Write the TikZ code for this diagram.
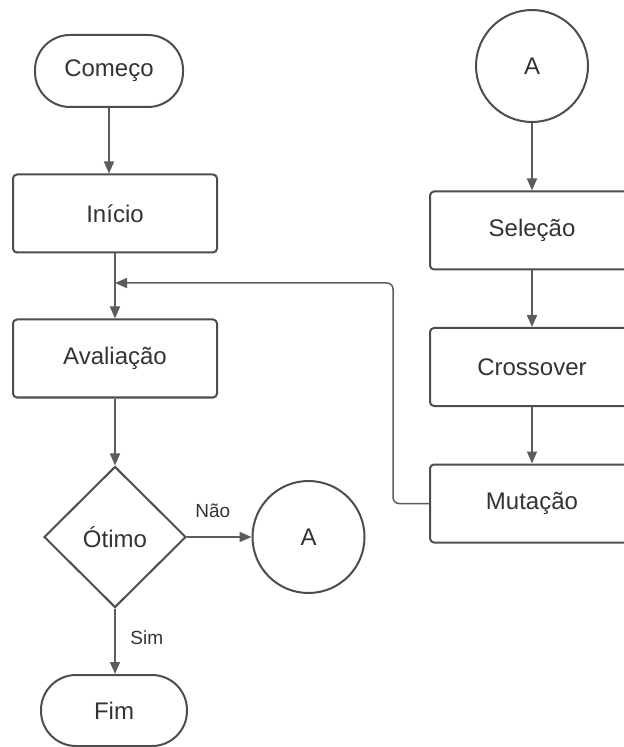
\documentclass[tikz,border=0pt]{standalone}
\usepackage{fontspec}
\setmainfont{Liberation Sans}
\usetikzlibrary{positioning, arrows.meta, shapes.geometric}

\definecolor{edgegray}{HTML}{4D4D4D}
\definecolor{wiregray}{HTML}{5C5C5C}
\definecolor{inkgray}{HTML}{333333}

\begin{document}
\begin{tikzpicture}[x=0.5pt, y=-0.5pt,
    every node/.style={text=inkgray, font=\fontsize{12}{14}\selectfont},
    terminal/.style={draw=edgegray, line width=1pt, rectangle, rounded corners=17.5pt, minimum width=74pt, minimum height=36pt},
    process/.style={draw=edgegray, line width=1pt, rectangle, rounded corners=2pt, minimum width=102pt, minimum height=39pt},
    decision/.style={draw=edgegray, line width=1pt, diamond, minimum width=71pt, minimum height=70.5pt, inner sep=0pt},
    linkpt/.style={draw=edgegray, line width=1pt, circle, minimum size=56pt},
    flow/.style={draw=wiregray, line width=0.75pt, -{Triangle[length=6pt, width=5pt]}},
    tag/.style={font=\fontsize{9.5}{11}\selectfont}
  ]
  \clip (0,0) rectangle (624,747);

  % left column
  \node[terminal] (comeco) at (109,71) {Começo};
  \node[process] (inicio) at (115,213.5) {Início};
  \node[process] (aval) at (115,358.5) {Avaliação};
  \node[decision] (otimo) at (115,537) {Ótimo};
  \node[linkpt] (linkb) at (308.5,537) {A};
  \node[terminal, minimum width=73pt, minimum height=35.5pt] (fim) at (114,710.5) {Fim};

  % right column
  \node[linkpt] (linka) at (532,66) {A};
  \node[process] (selecao) at (532,230.5) {Seleção};
  \node[process] (cross) at (532,367) {Crossover};
  \node[process] (mutacao) at (532,503.5) {Mutação};

  \coordinate (merge) at (115,283);

  \draw[flow] (comeco.south) -- (comeco.south |- inicio.north);
  \draw[flow] (inicio) -- (aval);
  \draw[flow] (aval) -- (otimo);
  \draw[flow] (otimo) -- node[tag, pos=0.4, above=6pt] {Não} (linkb);
  \draw[flow] (otimo.south) -- node[tag, pos=0.45, right=4pt] {Sim} (otimo.south |- fim.north);

  \draw[flow] (linka) -- (selecao);
  \draw[flow] (selecao) -- (cross);
  \draw[flow] (cross) -- (mutacao);
  \draw[flow, rounded corners=3pt] (mutacao.west) -- ++(-36,0) |- (merge);
\end{tikzpicture}
\end{document}
